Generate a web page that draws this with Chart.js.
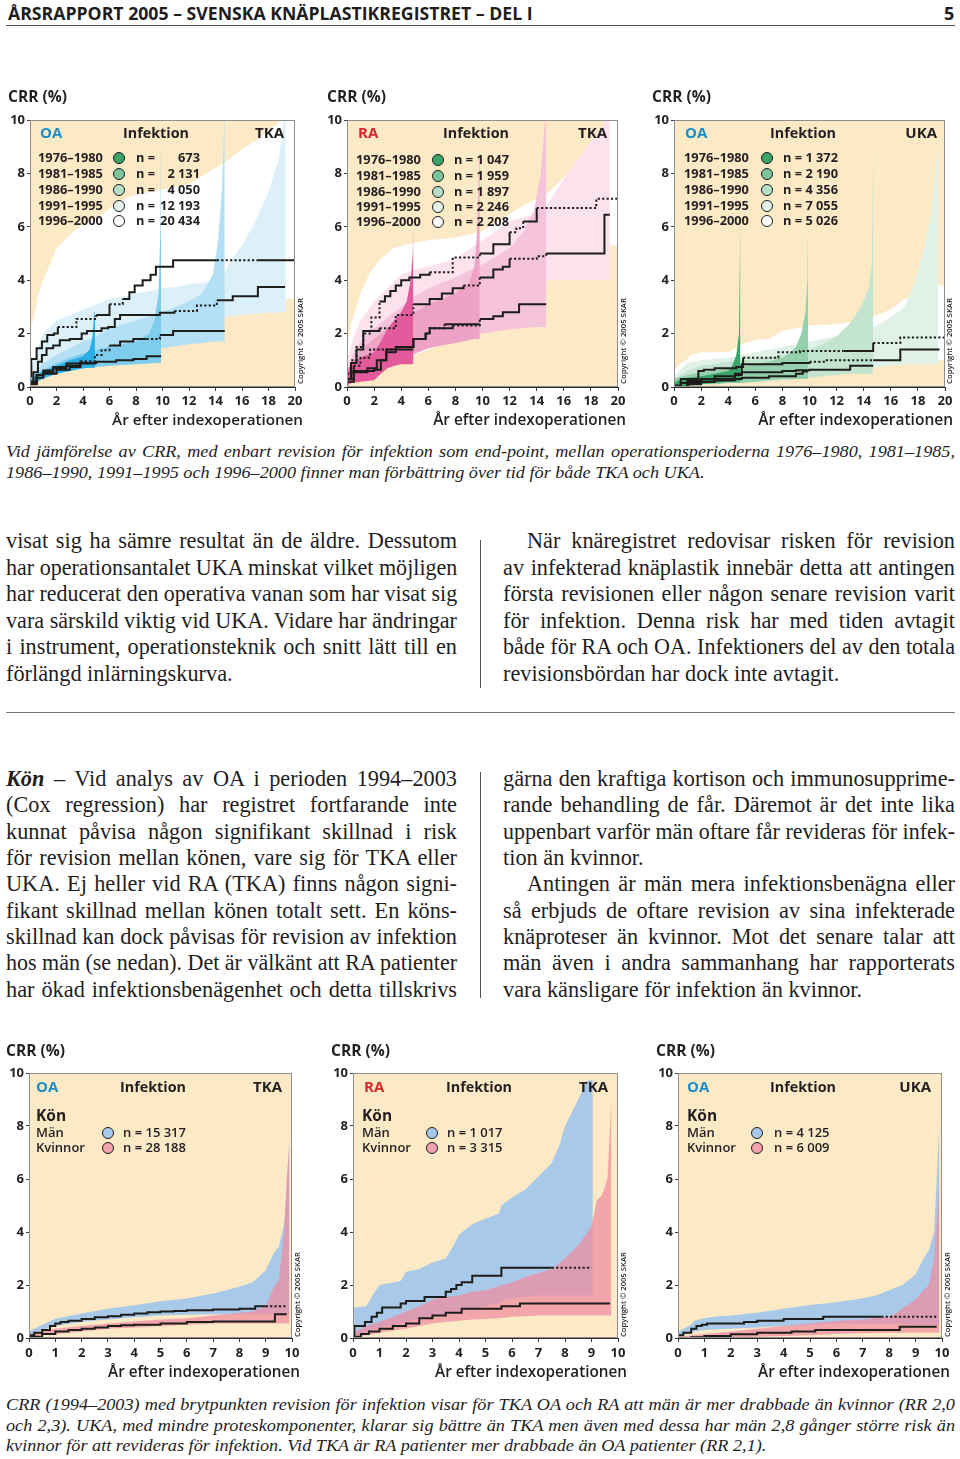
<!DOCTYPE html>
<html><head><meta charset="utf-8">
<script src="https://cdn.jsdelivr.net/npm/chart.js@4.4.1/dist/chart.umd.min.js"></script>
<style>
html,body{margin:0;padding:0;background:#fff;}
#page{position:relative;width:960px;height:1459px;overflow:hidden;font-family:'Liberation Serif','Times New Roman',serif;color:#1f1d1e;}
.abs{position:absolute;white-space:nowrap;transform-origin:0 50%;}
.hdr{font-family:'Open Sans',sans-serif;font-weight:700;font-size:18px;color:#1f1d1e;}
.cap{font-style:italic;font-size:16.5px;}
.body{font-size:22.3px;}
.rule{position:absolute;background:#555;}
canvas{position:absolute;}
</style></head>
<body><div id="page"></div>
<script>
// ---------------- DATA ----------------
const xTicks20 = [0,2,4,6,8,10,12,14,16,18,20];
const xTicks10 = [0,1,2,3,4,5,6,7,8,9,10];
const yTicks = [0,2,4,6,8,10];
const periods = ['1976–1980','1981–1985','1986–1990','1991–1995','1996–2000'];
const periodDot = ['#3aa46a','#7cc49a','#b7dfc7','#e4f4ea','#ffffff'];
const nOaTka = ['673','2 131','4 050','12 193','20 434'];
const nRaTka = ['1 047','1 959','1 897','2 246','2 208'];
const nOaUka = ['1 372','2 190','4 356','7 055','5 026'];
const konLabels = ['Män','Kvinnor'];
const konDot = ['#a9c9ea','#f3a3ad'];
const nKonOaTka = ['15 317','28 188'];
const nKonRaTka = ['1 017','3 315'];
const nKonOaUka = ['4 125','6 009'];

// OA TKA by period: step lines [x, CRR] ; dotted x-ranges ; bands [x, lower, upper]
const oaTkaLine76 = [[0,0.4],[0.1,1.05],[0.5,1.45],[0.9,1.7],[1.3,1.95],[1.8,2.0],[2.1,2.25],[3.5,2.55],[5.0,2.7],[6.0,3.1],[7.0,3.3],[7.5,3.55],[7.9,3.8],[8.5,4.0],[9.1,4.2],[9.5,4.5],[10.8,4.75],[14.1,4.75],[17.2,4.75],[20,4.75]];
const oaTkaDots76 = [[2.1,5.0],[6.0,7.0],[14.1,17.2]];
const oaTkaLine81 = [[0,0.2],[0.25,0.55],[0.6,0.95],[0.9,1.2],[1.25,1.45],[1.75,1.55],[2.25,1.75],[3.0,1.8],[3.9,2.0],[4.3,2.1],[5.4,2.2],[5.9,2.25],[6.4,2.55],[6.8,2.7],[9.8,2.78],[10.9,2.85],[12.6,3.05],[14.1,3.25],[15.3,3.4],[17.2,3.75],[19.25,3.75]];
const oaTkaDots81 = [[10.9,14.1]];
const oaTkaLine86 = [[0,0.2],[0.5,0.45],[1.0,0.62],[1.75,0.75],[2.75,0.88],[3.8,0.96],[4.9,1.2],[5.4,1.38],[6.0,1.55],[6.8,1.7],[7.8,1.8],[8.8,1.8],[9.8,1.95],[10.8,2.1],[14.7,2.1]];
const oaTkaDots86 = [[3.8,6.0],[8.8,9.8]];
const oaTkaLine91 = [[0,0.12],[0.5,0.45],[1.0,0.55],[1.75,0.7],[2.75,0.8],[3.8,0.9],[5.0,0.95],[6.5,1.0],[7.8,1.05],[8.8,1.15],[9.9,1.15]];
const oaTkaLine96 = [[0,0.1],[0.5,0.35],[1.0,0.5],[2.0,0.65],[3.0,0.75],[3.8,0.88],[4.9,0.9]];
const oaTkaBand76 = [[0,0.05,2.1],[0.3,0.2,2.6],[0.6,0.35,3.4],[1,0.5,4.0],[1.5,0.7,4.6],[2,0.9,5.2],[3,1.05,5.7],[4,1.2,6.1],[5,1.35,6.3],[6,1.5,6.7],[7,1.7,7.0],[8,1.9,7.2],[9,2.05,7.3],[10,2.2,7.4],[11,2.4,7.5],[12,2.6,7.6],[13,2.75,7.9],[14,2.9,8.2],[15,3.0,8.5],[16,3.1,8.9],[17,3.2,9.2],[18,3.3,9.6],[19,3.3,10],[20,3.3,10.5]];
const oaTkaBand81 = [[0,0.05,0.5],[0.5,0.35,1.4],[1,0.6,2.0],[2,0.9,2.5],[3,1.05,2.7],[4,1.2,2.9],[5,1.4,3.1],[6,1.6,3.3],[7,1.7,3.4],[8,1.8,3.5],[9,1.9,3.6],[10,2.0,3.7],[11,2.1,3.75],[12,2.2,3.85],[13,2.3,3.9],[14,2.45,4.0],[14.7,2.6,4.3],[15,2.65,4.6],[16,2.7,5.3],[17,2.75,6.2],[18,2.78,7.3],[18.8,2.8,8.6],[19.3,2.8,10.5]];
const oaTkaBand86 = [[0,0.05,0.4],[1,0.3,0.9],[2,0.5,1.2],[3,0.6,1.45],[4,0.7,1.7],[5,0.85,1.9],[6,1.0,2.2],[8,1.25,2.5],[10,1.45,2.8],[12,1.6,3.2],[13,1.65,3.5],[13.8,1.7,4.2],[14.2,1.7,5.5],[14.5,1.7,7.5],[14.7,1.7,10.5]];
const oaTkaBand91 = [[0,0.05,0.3],[1,0.3,0.65],[2,0.5,0.9],[3,0.6,1.1],[4,0.7,1.25],[5,0.75,1.4],[6,0.8,1.5],[7,0.82,1.6],[8,0.85,1.7],[9,0.88,2.0],[9.4,0.9,2.5],[9.7,0.9,3.5],[9.85,0.9,6],[9.9,0.9,10.5]];
const oaTkaBand96 = [[0,0.05,0.25],[0.5,0.2,0.45],[1,0.35,0.6],[2,0.5,0.8],[3,0.6,1.0],[4,0.7,1.15],[4.5,0.72,1.4],[4.7,0.72,1.8],[4.85,0.72,2.8],[4.9,0.72,4.3]];

// RA TKA by period
const raTkaLine76 = [[0,0.5],[0.3,1.0],[0.7,1.5],[1.2,2.0],[1.8,2.6],[2.4,3.2],[2.8,3.4],[3.2,3.6],[3.6,3.8],[4.0,4.0],[4.6,4.1],[5.4,4.2],[6.1,4.3],[7.8,4.85],[9.8,5.0],[10.8,5.35],[12.0,5.8],[12.5,5.95],[13.0,6.2],[14.0,6.7],[18.4,7.05],[19.8,7.05],[20,9.3]];
const raTkaDots76 = [[0,2.4],[6.1,9.8],[12.0,13.0],[14.0,19.8]];
const raTkaLine81 = [[0,0.3],[0.3,0.9],[0.7,1.4],[1.2,2.1],[2.4,2.2],[3.6,2.7],[4.9,3.1],[6.1,3.3],[7.0,3.5],[7.8,3.7],[8.6,3.8],[9.8,4.1],[10.8,4.4],[11.5,4.5],[12.0,4.8],[14.0,4.9],[14.7,5.0],[19.0,6.45],[19.4,6.45]];
const raTkaDots81 = [[2.4,4.9],[8.6,9.8],[12.0,14.7]];
const raTkaLine86 = [[0,0.3],[0.5,0.8],[1.0,1.1],[1.7,1.4],[3.6,1.5],[4.9,1.8],[5.8,2.0],[6.1,2.2],[7.8,2.3],[9.8,2.55],[10.8,2.65],[11.5,2.8],[12.7,3.1],[14.7,3.1]];
const raTkaDots86 = [[0.5,3.6],[7.8,9.8]];
const raTkaLine91 = [[0,0.2],[0.5,0.6],[1.5,0.7],[2.2,1.0],[2.9,1.3],[3.6,1.5],[4.9,1.8],[5.8,2.0],[6.1,2.2],[7.2,2.35],[9.8,2.35]];
const raTkaDots91 = [[5.8,7.2]];
const raTkaLine96 = [[0,0.3],[0.3,0.55],[1.5,0.6],[2.0,0.65],[2.5,1.0],[2.9,1.4],[4.9,1.4]];
const raTkaBand76 = [[0,0.05,1.5],[0.3,0.2,2.4],[0.7,0.4,3.0],[1,0.5,3.5],[1.7,0.65,4.3],[2.5,0.8,4.8],[3.4,0.95,5.2],[4.9,1.2,5.4],[6,1.4,5.5],[8,1.8,5.6],[9.8,2.3,5.8],[11.8,2.8,6.4],[13,3.2,6.8],[14.7,4.0,7.2],[16.7,4.3,8.2],[18.7,4.8,9.1],[19.4,5.3,10],[20,5.3,10.5]];
const raTkaBand81 = [[0,0.05,1.0],[0.5,0.3,1.9],[1,0.5,2.5],[2,0.9,3.2],[3,1.15,3.7],[4,1.4,4.2],[5,1.6,4.4],[6,1.8,4.5],[8,2.2,4.8],[10,2.6,5.5],[12,3.1,6.2],[14,3.6,6.5],[14.7,4.0,6.7],[15,4.0,7.0],[16,4.0,7.8],[17,4.0,8.5],[18,4.0,9.2],[18.8,4.0,9.7],[19.4,4.0,10.5]];
const raTkaBand86 = [[0,0.05,0.7],[0.5,0.3,1.3],[1,0.5,1.7],[2,0.8,2.2],[3,1.0,2.6],[4,1.2,3.0],[5,1.4,3.4],[6,1.55,3.7],[8,1.8,4.1],[10,2.0,4.6],[12,2.15,5.2],[13,2.2,5.8],[13.8,2.25,6.6],[14.3,2.25,8.0],[14.7,2.25,10.5]];
const raTkaBand91 = [[0,0.05,0.6],[0.5,0.2,1.0],[1,0.35,1.4],[2,0.6,1.8],[3,0.8,2.2],[4,1.0,2.5],[5,1.25,2.8],[6,1.45,3.1],[7,1.55,3.3],[8,1.65,3.5],[9,1.75,3.9],[9.4,1.8,4.5],[9.6,1.8,5.8],[9.8,1.8,9.0]];
const raTkaBand96 = [[0,0.05,0.5],[0.3,0.15,0.9],[1,0.2,1.1],[2,0.25,1.3],[2.5,0.5,1.7],[3,0.7,2.2],[3.5,0.8,2.5],[4,0.85,2.8],[4.4,0.85,3.2],[4.7,0.85,4.0],[4.85,0.85,5.0],[4.9,0.85,6.3]];

// OA UKA by period
const oaUkaLine76 = [[0,0.05],[0.5,0.3],[1.8,0.6],[2.2,0.65],[3,0.7],[4.6,0.75],[5.1,1.1],[7.7,1.3],[9.3,1.35],[12.5,1.35],[14.7,1.65],[16.7,1.85],[20,1.85]];
const oaUkaDots76 = [[5.1,12.5],[14.7,20]];
const oaUkaLine81 = [[0,0.05],[0.5,0.15],[1,0.25],[2,0.3],[3,0.4],[4.5,0.5],[5,0.85],[8,0.9],[10,0.95],[11.2,1.0],[14.7,1.0],[16.5,1.0],[16.7,1.4],[19.6,1.4]];
const oaUkaDots81 = [[10,14.7]];
const oaUkaLine86 = [[0,0.0],[1,0.2],[2,0.3],[4.5,0.45],[5,0.55],[8,0.6],[9,0.63],[10,0.65],[13,0.8],[14.7,0.8]];
const oaUkaLine91 = [[0,0],[1,0.1],[2,0.2],[3,0.25],[4.3,0.3],[5,0.35],[7,0.4],[9,0.5],[9.5,0.58],[9.9,0.58]];
const oaUkaLine96 = [[0,0],[0.9,0],[1,0.15],[2,0.2],[3,0.25],[4.5,0.3],[4.9,0.35]];
const oaUkaBand76 = [[0,0,0.6],[0.5,0.02,0.9],[0.9,0.05,1.0],[1.2,0.08,1.2],[2,0.1,1.3],[4,0.15,1.3],[5,0.2,1.6],[6,0.25,1.75],[7,0.3,1.8],[8,0.35,2.1],[10,0.45,2.3],[12,0.55,2.35],[14,0.7,2.5],[15,0.8,2.7],[16,0.85,2.9],[17,0.9,3.3],[18,0.95,3.4],[19,1.0,3.6],[19.5,1.0,3.8],[20,1.0,3.8]];
const oaUkaBand81 = [[0,0,0.4],[1,0.1,0.9],[2,0.15,1.0],[4,0.2,1.1],[6,0.3,1.3],[8,0.35,1.5],[10,0.45,1.7],[12,0.55,1.9],[14,0.65,2.1],[15,0.75,2.3],[16,0.8,2.6],[17,0.85,3.0],[17.5,0.85,3.5],[18,0.85,4.3],[18.5,0.85,5.3],[19,0.85,6.5],[19.3,0.85,8.0],[19.5,0.85,9.2]];
const oaUkaBand86 = [[0,0,0.3],[1,0.05,0.6],[2,0.1,0.8],[4,0.15,0.95],[6,0.2,1.05],[8,0.25,1.2],[10,0.35,1.4],[11,0.4,1.6],[12,0.45,1.9],[13,0.5,2.4],[13.8,0.5,3.0],[14.3,0.5,3.6],[14.6,0.5,4.5],[14.7,0.5,9.5]];
const oaUkaBand91 = [[0,0,0.3],[1,0.05,0.45],[2,0.1,0.55],[3,0.1,0.6],[4,0.15,0.7],[5,0.15,0.75],[6,0.2,0.85],[7,0.25,0.95],[8,0.3,1.1],[8.5,0.3,1.25],[9,0.3,1.5],[9.4,0.3,2.0],[9.7,0.3,2.8],[9.85,0.3,4.0],[9.9,0.3,6.5]];
const oaUkaBand96 = [[0,0,0.15],[0.5,0.02,0.3],[1,0.05,0.35],[2,0.1,0.4],[3,0.15,0.5],[4,0.2,0.6],[4.3,0.2,0.8],[4.6,0.2,1.2],[4.8,0.2,2.0],[4.9,0.2,6.5]];

// Kön (1994–2003): Män / Kvinnor
const konOaTkaLineMan = [[0,0.1],[0.2,0.2],[0.5,0.3],[0.8,0.45],[1,0.55],[1.2,0.6],[1.5,0.65],[2,0.72],[2.5,0.78],[3,0.82],[3.5,0.88],[4,0.92],[4.5,0.97],[5,1.0],[5.5,1.02],[6,1.05],[7,1.08],[8,1.1],[8.6,1.2],[9.0,1.2],[9.8,1.2]];
const konOaTkaDotsMan = [[9.0,9.8]];
const konOaTkaLineKv = [[0,0.05],[0.5,0.15],[1,0.25],[1.5,0.3],[2,0.35],[2.5,0.4],[3,0.45],[3.5,0.48],[4,0.5],[5,0.55],[6,0.6],[7,0.62],[9.35,0.9],[9.8,0.9]];
const konOaTkaBandMan = [[0,0.1,0.25],[0.5,0.3,0.5],[1,0.45,0.73],[2,0.6,0.92],[3,0.7,1.1],[4,0.78,1.24],[5,0.85,1.39],[6,0.88,1.49],[7,0.9,1.68],[8,0.9,1.93],[8.5,0.9,2.1],[9,0.9,2.56],[9.3,0.9,3.2],[9.5,0.9,3.44],[9.7,0.9,4.3],[9.8,0.9,5.6],[9.9,0.9,7.7]];
const konOaTkaBandKv = [[0,0.05,0.15],[1,0.15,0.35],[2,0.25,0.45],[3,0.35,0.55],[4,0.4,0.62],[5,0.45,0.7],[6,0.5,0.75],[7,0.55,0.85],[8,0.55,0.95],[8.5,0.55,1.0],[9,0.55,1.2],[9.3,0.55,1.9],[9.5,0.55,2.2],[9.7,0.55,4.0],[9.8,0.55,6.0],[9.9,0.55,7.3]];

const konRaTkaLineMan = [[0,0.1],[0.05,0.45],[0.45,0.6],[0.7,0.8],[0.9,0.95],[1.1,1.15],[1.8,1.3],[2.0,1.4],[2.7,1.55],[3.5,1.75],[3.7,1.85],[3.9,2.0],[4.1,2.1],[4.5,2.35],[5.6,2.65],[7.5,2.65],[9.0,2.65]];
const konRaTkaDotsMan = [[7.5,9.0]];
const konRaTkaLineKv = [[0,0.05],[0.3,0.15],[0.6,0.25],[1,0.35],[1.5,0.45],[2,0.55],[2.5,0.75],[3,0.85],[3.5,0.95],[4.1,1.1],[5.6,1.2],[6.3,1.3],[9.7,1.3]];
const konRaTkaBandMan = [[0,0.05,1.15],[0.5,0.2,1.2],[0.7,0.3,1.55],[1,0.4,2.0],[1.8,0.55,2.15],[2,0.6,2.5],[2.5,0.7,2.6],[3,0.8,2.85],[3.5,0.9,3.0],[3.8,0.95,3.5],[4,1.0,3.9],[4.5,1.1,4.3],[5,1.2,4.5],[5.5,1.3,4.7],[5.6,1.4,5.0],[6,1.5,5.3],[6.5,1.55,5.6],[7,1.6,6.1],[7.5,1.6,6.6],[7.8,1.6,7.3],[8,1.6,8.0],[8.5,1.6,9.0],[8.8,1.6,9.7],[9.05,1.6,9.75]];
const konRaTkaBandKv = [[0,0,0.2],[0.5,0.1,0.45],[1,0.2,0.6],[1.5,0.28,0.8],[2,0.35,1.0],[2.5,0.45,1.2],[3,0.55,1.45],[3.5,0.6,1.55],[4,0.65,1.6],[4.5,0.7,1.75],[5,0.72,1.8],[5.5,0.75,1.95],[6,0.8,2.1],[6.5,0.82,2.3],[7,0.85,2.45],[7.5,0.85,2.6],[8,0.85,3.0],[8.5,0.85,3.5],[9,0.85,4.2],[9.2,0.85,5.2],[9.4,0.85,5.4],[9.6,0.85,6.0],[9.75,0.85,9.0]];

const konOaUkaLineMan = [[0,0.1],[0.2,0.2],[0.5,0.35],[0.7,0.45],[0.9,0.5],[1.1,0.55],[2,0.55],[2.5,0.6],[3,0.65],[4,0.72],[5.5,0.8],[7.7,0.8],[9.8,0.8]];
const konOaUkaDotsMan = [[7.7,9.8]];
const konOaUkaLineKv = [[0,0],[0.5,0.03],[1,0.08],[2,0.14],[3,0.2],[4.3,0.25],[5.2,0.3],[8.4,0.42],[9.8,0.42]];
const konOaUkaBandMan = [[0,0.05,0.25],[0.5,0.2,0.5],[0.6,0.25,0.65],[1,0.3,0.75],[1.5,0.33,0.82],[2,0.35,0.85],[3,0.4,0.95],[4,0.45,1.1],[5,0.5,1.25],[6,0.55,1.35],[7,0.55,1.5],[7.5,0.55,1.6],[8,0.55,1.8],[8.5,0.55,2.0],[9,0.5,2.4],[9.3,0.5,3.0],[9.5,0.5,3.3],[9.7,0.5,4.0],[9.8,0.5,6.0],[9.9,0.5,8.2]];
const konOaUkaBandKv = [[0,0,0.05],[1,0,0.15],[2,0.02,0.25],[3,0.05,0.35],[4,0.08,0.45],[5,0.1,0.55],[5.5,0.12,0.6],[6,0.15,0.65],[7,0.18,0.7],[8,0.2,0.8],[8.3,0.2,0.95],[8.5,0.2,1.1],[9,0.2,1.45],[9.3,0.2,1.8],[9.5,0.2,2.0],[9.7,0.2,3.0],[9.85,0.2,5.0],[9.9,0.2,6.0]];

// ---------------- STYLE ----------------
const BEIGE = '#fce9c6';
const INK = '#231f20';
const OA_BLUE = '#1b8ec9';
const RA_RED = '#d7282f';
const FONT = "'Open Sans', 'DejaVu Sans', sans-serif";
Chart.defaults.font.family = FONT;
Chart.defaults.color = INK;

const page = document.getElementById('page');

function lineDs(pts, dots, color) {
  return {
    data: pts.map(([x, y]) => ({x, y})),
    borderColor: color || '#1d1d1b', borderWidth: 2, pointRadius: 0, stepped: true, fill: false,
    segment: { borderDash: c => {
      const m = (c.p0.parsed.x + c.p1.parsed.x) / 2;
      return (dots || []).some(([a, b]) => m > a && m < b) ? [2.2, 2.2] : undefined;
    } }
  };
}
function bandDs(tri, color) {
  return [
    { data: tri.map(([x, lo, hi]) => ({x, y: hi})), borderWidth: 0, pointRadius: 0, fill: '+1', backgroundColor: color, borderColor: 'rgba(0,0,0,0)' },
    { data: tri.map(([x, lo, hi]) => ({x, y: lo})), borderWidth: 0, pointRadius: 0, fill: false, borderColor: 'rgba(0,0,0,0)' }
  ];
}
function fitFont(ctx, text, weight, target, base) {
  ctx.font = weight + ' ' + base + 'px ' + FONT;
  const w = ctx.measureText(text).width;
  return weight + ' ' + (base * target / w).toFixed(2) + 'px ' + FONT;
}
function txt(ctx, s, x, y, font, color, align) {
  ctx.font = font; ctx.fillStyle = color; ctx.textAlign = align || 'left'; ctx.textBaseline = 'middle';
  ctx.fillText(s, x, y);
}
function dot(ctx, x, y, r, fill) {
  ctx.beginPath(); ctx.arc(x, y, r, 0, Math.PI * 2); ctx.fillStyle = fill; ctx.fill();
  ctx.lineWidth = 1; ctx.strokeStyle = '#1d1d1b'; ctx.stroke();
}

function makeAnnot(a) {
  return {
    id: 'annot',
    beforeDraw(chart) {
      const {ctx, chartArea: c} = chart;
      ctx.save(); ctx.fillStyle = BEIGE; ctx.fillRect(c.left, c.top, c.right - c.left, c.bottom - c.top); ctx.restore();
    },
    afterDatasetsDraw(chart) {
      const {ctx, chartArea: c} = chart;
      ctx.save(); ctx.strokeStyle = '#8f8f8f'; ctx.lineWidth = 1;
      ctx.strokeRect(c.left + 0.5, c.top + 0.5, c.right - c.left - 1, c.bottom - c.top - 1); ctx.restore();
    },
    afterDraw(chart) {
      const {ctx, chartArea: c} = chart;
      ctx.save();
      txt(ctx, 'CRR (%)', a.crrX, a.crrY, fitFont(ctx, 'CRR (%)', 'bold', 59, 15), INK);
      txt(ctx, a.group, a.gx, a.hy, 'bold 15px ' + FONT, a.groupColor);
      txt(ctx, 'Infektion', a.ix, a.hy, fitFont(ctx, 'Infektion', 'bold', 66, 15), INK);
      txt(ctx, a.kind, a.kr, a.hy, 'bold 15px ' + FONT, INK, 'right');
      const rf = fitFont(ctx, '1976–1980', 'bold', 65, 12.5);
      if (a.kon) {
        txt(ctx, 'Kön', a.lx, a.konY, 'bold 15.5px ' + FONT, INK);
        a.rowsY.forEach((y, i) => {
          txt(ctx, konLabels[i], a.lx, y, '600 13px ' + FONT, INK);
          dot(ctx, a.cx, y, 5.5, konDot[i]);
          txt(ctx, 'n = ' + a.ns[i], a.nx, y, '600 13px ' + FONT, INK);
        });
      } else {
        a.rowsY.forEach((y, i) => {
          txt(ctx, periods[i], a.lx, y, rf, INK);
          dot(ctx, a.cx, y, 5.5, periodDot[i]);
          if (a.numRight) {
            txt(ctx, 'n =', a.nx, y, rf, INK);
            txt(ctx, a.ns[i], a.numRight, y, rf, INK, 'right');
          } else {
            txt(ctx, 'n = ' + a.ns[i], a.nx, y, rf, INK);
          }
        });
      }
      // x-axis title
      const xt = 'År efter indexoperationen';
      txt(ctx, xt, a.xtRight, a.xtY, fitFont(ctx, xt, '600', a.xtW, 15), INK, 'right');
      // copyright
      const cp = 'Copyright © 2005 SKAR';
      ctx.translate(c.right + a.cpDx, c.bottom - a.cpDb);
      ctx.rotate(-Math.PI / 2);
      txt(ctx, cp, 0, 0, fitFont(ctx, cp, '600', a.cpLen, 8), INK, 'left');
      ctx.restore();
    }
  };
}

function buildChart(spec) {
  const cv = document.createElement('canvas');
  cv.width = spec.W; cv.height = spec.H;
  cv.style.left = spec.left + 'px'; cv.style.top = spec.top + 'px';
  cv.style.width = spec.W + 'px'; cv.style.height = spec.H + 'px';
  page.appendChild(cv);
  const datasets = [];
  spec.lines.forEach(l => datasets.push(lineDs(l[0], l[1])));
  spec.bands.forEach(b => { const [u, lo] = bandDs(b[0], b[1]); datasets.push(u, lo); });
  const tickFont = {size: 13, weight: 'bold'};
  return new Chart(cv, {
    type: 'line',
    data: { datasets },
    options: {
      responsive: false, animation: false, devicePixelRatio: 1, events: [],
      layout: { padding: { left: 0, top: spec.T, right: spec.W - spec.R, bottom: 0 } },
      plugins: { legend: { display: false }, tooltip: { enabled: false } },
      scales: {
        x: {
          type: 'linear', min: 0, max: spec.xMax, z: 1,
          afterBuildTicks: s => { s.ticks = spec.xTicks.map(v => ({value: v})); },
          ticks: { color: INK, font: tickFont, padding: spec.xPad, maxRotation: 0, autoSkip: false },
          grid: { display: true, drawOnChartArea: false, drawTicks: true, tickLength: 4, color: '#3a3a3a' },
          border: { display: true, color: '#2a2a2a', width: 1 },
          afterFit: s => { s.height = spec.H - spec.B; }
        },
        y: {
          min: 0, max: 10, z: 1,
          afterBuildTicks: s => { s.ticks = yTicks.map(v => ({value: v})); },
          ticks: { color: INK, font: tickFont, padding: 2 },
          grid: { display: true, drawOnChartArea: false, drawTicks: true, tickLength: 3, color: '#3a3a3a' },
          border: { display: true, color: '#2a2a2a', width: 1 },
          afterFit: s => { s.width = spec.L; }
        }
      }
    },
    plugins: [makeAnnot(spec.annot)]
  });
}

const blue = ['#ffffff', '#dcf0fa', '#b4e0f5', '#7fcdee', '#2badE4'];
const pink = ['#ffffff', '#fbe2ed', '#f5c4da', '#eea3c6', '#e35b9c'];
const green = ['#ffffff', '#e0f1e7', '#c3e5d0', '#94d0ab', '#3aa56a'];
const MAN_BAND = '#a9c9e9';
const KV_BAND = 'rgba(240,140,160,0.72)';

const topRows = [73, 89, 105, 121, 136];
const topBase = { W: 320, H: 350, T: 35, B: 302, xMax: 20, xTicks: xTicks20, xPad: 2 };
const botBase = { W: 320, H: 350, T: 33, B: 298, xMax: 10, xTicks: xTicks10, xPad: 3 };

buildChart(Object.assign({}, topBase, {
  left: 0, top: 85, L: 30, R: 295,
  lines: [[oaTkaLine76, oaTkaDots76], [oaTkaLine81, oaTkaDots81], [oaTkaLine86, oaTkaDots86], [oaTkaLine91], [oaTkaLine96]],
  bands: [[oaTkaBand96, blue[4]], [oaTkaBand91, blue[3]], [oaTkaBand86, blue[2]], [oaTkaBand81, blue[1]], [oaTkaBand76, blue[0]]],
  annot: { crrX: 8, crrY: 13, group: 'OA', groupColor: OA_BLUE, gx: 40, ix: 123, kr: 284, kind: 'TKA', hy: 49,
    rowsY: topRows, lx: 38, cx: 119, nx: 136, numRight: 200, ns: nOaTka,
    xtRight: 303, xtY: 336, xtW: 191, cpDx: 6, cpDb: 3, cpLen: 86 }
}));
buildChart(Object.assign({}, topBase, {
  left: 320, top: 85, L: 27, R: 298,
  lines: [[raTkaLine76, raTkaDots76], [raTkaLine81, raTkaDots81], [raTkaLine86, raTkaDots86], [raTkaLine91, raTkaDots91], [raTkaLine96]],
  bands: [[raTkaBand96, pink[4]], [raTkaBand91, pink[3]], [raTkaBand86, pink[2]], [raTkaBand81, pink[1]], [raTkaBand76, pink[0]]],
  annot: { crrX: 7, crrY: 13, group: 'RA', groupColor: RA_RED, gx: 38, ix: 123, kr: 287, kind: 'TKA', hy: 49,
    rowsY: [75, 91, 107, 122, 137], lx: 36, cx: 118, nx: 134, ns: nRaTka,
    xtRight: 306, xtY: 336, xtW: 193, cpDx: 6, cpDb: 3, cpLen: 86 }
}));
buildChart(Object.assign({}, topBase, {
  left: 640, top: 85, L: 34, R: 305,
  lines: [[oaUkaLine76, oaUkaDots76], [oaUkaLine81, oaUkaDots81], [oaUkaLine86], [oaUkaLine91], [oaUkaLine96]],
  bands: [[oaUkaBand96, green[4]], [oaUkaBand91, green[3]], [oaUkaBand86, green[2]], [oaUkaBand81, green[1]], [oaUkaBand76, green[0]]],
  annot: { crrX: 12, crrY: 13, group: 'OA', groupColor: OA_BLUE, gx: 45, ix: 130, kr: 297, kind: 'UKA', hy: 49,
    rowsY: topRows, lx: 44, cx: 127, nx: 143, ns: nOaUka,
    xtRight: 313, xtY: 336, xtW: 195, cpDx: 5, cpDb: 3, cpLen: 86 }
}));

const konRows = [93, 108];
buildChart(Object.assign({}, botBase, {
  left: 0, top: 1040, L: 29, R: 292,
  lines: [[konOaTkaLineMan, konOaTkaDotsMan], [konOaTkaLineKv]],
  bands: [[konOaTkaBandKv, KV_BAND], [konOaTkaBandMan, MAN_BAND]],
  annot: { crrX: 6, crrY: 12, group: 'OA', groupColor: OA_BLUE, gx: 36, ix: 120, kr: 282, kind: 'TKA', hy: 48,
    kon: true, konY: 77, rowsY: konRows, lx: 36, cx: 108, nx: 123, ns: nKonOaTka,
    xtRight: 300, xtY: 333, xtW: 192, cpDx: 6, cpDb: 1, cpLen: 85 }
}));
buildChart(Object.assign({}, botBase, {
  left: 325, top: 1040, L: 28, R: 293,
  lines: [[konRaTkaLineMan, konRaTkaDotsMan], [konRaTkaLineKv]],
  bands: [[konRaTkaBandKv, KV_BAND], [konRaTkaBandMan, MAN_BAND]],
  annot: { crrX: 6, crrY: 12, group: 'RA', groupColor: RA_RED, gx: 39, ix: 121, kr: 283, kind: 'TKA', hy: 48,
    kon: true, konY: 77, rowsY: konRows, lx: 37, cx: 107, nx: 122, ns: nKonRaTka,
    xtRight: 302, xtY: 333, xtW: 192, cpDx: 6, cpDb: 1, cpLen: 85 }
}));
buildChart(Object.assign({}, botBase, {
  left: 650, top: 1040, L: 28, R: 292,
  lines: [[konOaUkaLineMan, konOaUkaDotsMan], [konOaUkaLineKv]],
  bands: [[konOaUkaBandKv, KV_BAND], [konOaUkaBandMan, MAN_BAND]],
  annot: { crrX: 6, crrY: 12, group: 'OA', groupColor: OA_BLUE, gx: 37, ix: 120, kr: 281, kind: 'UKA', hy: 48,
    kon: true, konY: 77, rowsY: konRows, lx: 37, cx: 107, nx: 124, ns: nKonOaUka,
    xtRight: 300, xtY: 333, xtW: 192, cpDx: 6, cpDb: 1, cpLen: 85 }
}));

// ---------------- PAGE TEXT ----------------
function addLine(html, x, yc, lh, cls) {
  const d = document.createElement('div');
  d.className = 'abs ' + cls;
  d.style.left = x + 'px'; d.style.top = (yc - lh / 2) + 'px';
  d.style.lineHeight = lh + 'px'; d.style.height = lh + 'px';
  d.innerHTML = html;
  page.appendChild(d);
  return d;
}
function justify(d, width) {
  const nat = d.offsetWidth;
  let s = 1;
  if (nat > width) s = width / nat;
  d.style.width = (width / s) + 'px';
  d.style.textAlign = 'justify'; d.style.textAlignLast = 'justify';
  if (s !== 1) d.style.transform = 'scaleX(' + s + ')';
}
function rule(x, y, w, h, color) {
  const r = document.createElement('div'); r.className = 'rule';
  r.style.left = x + 'px'; r.style.top = y + 'px'; r.style.width = w + 'px'; r.style.height = h + 'px';
  if (color) r.style.background = color;
  page.appendChild(r);
}

// header
const hd = addLine('ÅRSRAPPORT 2005 – SVENSKA KNÄPLASTIKREGISTRET – DEL I', 8, 13, 20, 'hdr');
hd.style.transform = 'scaleX(' + (525 / hd.offsetWidth) + ')';
const pn = addLine('5', 944, 13, 20, 'hdr');
rule(6, 25, 949, 1, '#555');

// caption block (scaled lines)
function caption(lines, x, ys, fullW, lastW) {
  const divs = lines.map((t, i) => addLine(t, x, ys[i], 20, 'cap'));
  const last = divs[divs.length - 1];
  const s = lastW / last.offsetWidth;
  divs.forEach((d, i) => {
    d.style.transform = 'scaleX(' + s + ')';
    if (i < divs.length - 1) { d.style.width = (fullW / s) + 'px'; d.style.textAlign = 'justify'; d.style.textAlignLast = 'justify'; }
  });
}
caption(['Vid jämförelse av CRR, med enbart revision för infektion som end-point, mellan operationsperioderna 1976–1980, 1981–1985,',
  '1986–1990, 1991–1995 och 1996–2000 finner man förbättring över tid för både TKA och UKA.'], 6, [452, 473], 949, 699);

function block(lines, x, ys, width) {
  lines.forEach((l, i) => {
    const [t, mode] = l;
    const ind = mode && mode.indexOf('i') >= 0 ? 24 : 0;
    const d = addLine(t, x + ind, ys[i], 26, 'body');
    if (!(mode && mode.indexOf('L') >= 0)) justify(d, width - ind);
  });
}
const ys1 = [541, 567.5, 594, 620.5, 647, 673.5];
block([['visat sig ha sämre resultat än de äldre. Dessutom'],
  ['har operationsantalet UKA minskat vilket möjligen'],
  ['har reducerat den operativa vanan som har visat sig'],
  ['vara särskild viktig vid UKA. Vidare har ändringar'],
  ['i instrument, operationsteknik och snitt lätt till en'],
  ['förlängd inlärningskurva.', 'L']], 6, ys1, 451);
block([['När knäregistret redovisar risken för revision', 'i'],
  ['av infekterad knäplastik innebär detta att antingen'],
  ['första revisionen eller någon senare revision varit'],
  ['för infektion. Denna risk har med tiden avtagit'],
  ['både för RA och OA. Infektioners del av den totala'],
  ['revisionsbördan har dock inte avtagit.', 'L']], 503, ys1, 452);
rule(480, 540, 1, 148, '#555');
rule(6, 712, 949, 1, '#777');

const ys2 = [779, 805.3, 831.6, 858, 884.3, 910.6, 937, 963.3, 989.6];
block([['<b><i>Kön</i></b> – Vid analys av OA i perioden 1994–2003'],
  ['(Cox regression) har registret fortfarande inte'],
  ['kunnat påvisa någon signifikant skillnad i risk'],
  ['för revision mellan könen, vare sig för TKA eller'],
  ['UKA. Ej heller vid RA (TKA) finns någon signi-'],
  ['fikant skillnad mellan könen totalt sett. En köns-'],
  ['skillnad kan dock påvisas för revision av infektion'],
  ['hos män (se nedan). Det är välkänt att RA patienter'],
  ['har ökad infektionsbenägenhet och detta tillskrivs']], 6, ys2, 451);
block([['gärna den kraftiga kortison och immunosupprime-'],
  ['rande behandling de får. Däremot är det inte lika'],
  ['uppenbart varför män oftare får revideras för infek-'],
  ['tion än kvinnor.', 'L'],
  ['Antingen är män mera infektionsbenägna eller', 'i'],
  ['så erbjuds de oftare revision av sina infekterade'],
  ['knäproteser än kvinnor. Mot det senare talar att'],
  ['män även i andra sammanhang har rapporterats'],
  ['vara känsligare för infektion än kvinnor.', 'L']], 503, ys2, 452);
rule(480, 772, 1, 226, '#555');

caption(['CRR (1994–2003) med brytpunkten revision för infektion visar för TKA OA och RA att män är mer drabbade än kvinnor (RR 2,0',
  'och 2,3). UKA, med mindre proteskomponenter, klarar sig bättre än TKA men även med dessa har män 2,8 gånger större risk än',
  'kvinnor för att revideras för infektion. Vid TKA är RA patienter mer drabbade än OA patienter (RR 2,1).'], 6, [1405, 1425.5, 1446], 949, 760);
</script>
</body></html>
